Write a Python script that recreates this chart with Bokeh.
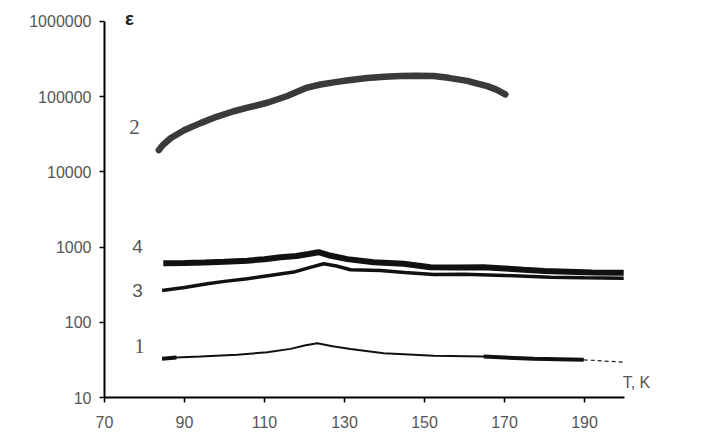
from bokeh.plotting import figure
from bokeh.models import FixedTicker, Label
from bokeh.embed import file_html
from bokeh.resources import INLINE

# Curve 2
T2 = [83.6, 84.5, 86.5, 90, 94, 98, 102.3, 106, 110.7, 115.7, 118, 120.7, 124, 127.3,
      131, 135.7, 140, 144, 148, 152.3, 156, 160.7, 163, 165.7, 168, 170.2]
e2 = [19500, 22500, 28000, 36000, 44500, 54000, 64000, 72000, 83000, 102000, 115000,
      132000, 145000, 155000, 165000, 177000, 184000, 188000, 190000, 188000, 178000,
      162000, 150000, 138000, 124000, 107000]
# Curve 4
T4 = [84.7, 90, 95, 100, 105.7, 110, 114, 118, 121, 123.5, 126, 130.7, 137.3, 144.8,
      151.5, 158, 164.8, 170, 174.8, 180, 186, 192, 199.8]
e4 = [611, 615, 625, 640, 660, 690, 732, 760, 810, 855, 780, 692, 630, 600, 540, 535,
      540, 520, 500, 480, 470, 460, 455]
# Curve 3
T3 = [84.4, 90, 95.7, 100, 105.7, 110, 117.3, 121, 124.8, 128, 131.5, 139, 145, 152.3,
      160, 170, 181.5, 190, 199.8]
e3 = [264, 290, 325, 350, 380, 410, 465, 530, 600, 560, 500, 490, 460, 431, 435, 420,
      398, 390, 385]
# Curve 1
T1 = [84.4, 88, 94, 103.2, 110.7, 116.5, 120, 123.2, 127, 131.5, 139.8, 152.3, 164.8,
      177.3, 189.8]
e1 = [32.7, 34, 35, 37, 40, 44.3, 49, 52.7, 48, 44, 38.8, 36, 35, 32.7, 31.7]
T1_tail = [189.8, 199.8]
e1_tail = [31.7, 29.5]

x_ticks = [70, 90, 110, 130, 150, 170, 190]
y_ticks = [10, 100, 1000, 10000, 100000, 1000000]
y_tick_labels = ["10", "100", "1000", "10000", "100000", "1000000"]

p = figure(width=690, height=438, x_range=(70, 215), y_range=(10, 1.63e6),
           y_axis_type="log", output_backend="svg", toolbar_location=None,
           min_border_left=104, min_border_right=6, min_border_top=5,
           min_border_bottom=41)
p.outline_line_color = None
p.grid.visible = False
p.background_fill_color = "white"
p.border_fill_color = "white"

for ax in (p.xaxis[0], p.yaxis[0]):
    ax.axis_line_color = "black"
    ax.axis_line_width = 2
    ax.major_tick_line_color = "black"
    ax.major_tick_line_width = 1.5
    ax.major_tick_out = 5
    ax.major_tick_in = 0
    ax.minor_tick_line_color = None
    ax.major_label_text_font = "Liberation Sans"
    ax.major_label_text_font_size = "16px"
    ax.major_label_text_color = "#555555"

p.xaxis[0].ticker = FixedTicker(ticks=x_ticks)
p.xaxis[0].bounds = (70, 200)
p.xaxis[0].major_label_standoff = 13
p.yaxis[0].ticker = FixedTicker(ticks=y_ticks)
p.yaxis[0].bounds = (10, 1000000)
p.yaxis[0].major_label_overrides = {t: s for t, s in zip(y_ticks, y_tick_labels)}
p.yaxis[0].major_label_standoff = 8

p.line(T2, e2, line_color="#3a3a3a", line_width=6.5, line_cap="round", line_join="round")
p.line(T4, e4, line_color="#111111", line_width=6)
p.line(T3, e3, line_color="#111111", line_width=3.5)
p.line(T1, e1, line_color="#111111", line_width=2)
p.line(T1[:2], e1[:2], line_color="#111111", line_width=4)
p.line(T1[12:], e1[12:], line_color="#111111", line_width=4)
p.line(T1_tail, e1_tail, line_color="#222222", line_width=1.2, line_dash="4 3")

def lab(x, y, t, font="Liberation Sans", size="19px", style="normal", color="#555555"):
    p.add_layout(Label(x=x, y=y, text=t, text_font=font, text_font_size=size,
                       text_font_style=style, text_color=color,
                       text_align="center", text_baseline="middle"))

lab(77.5, 39000, "2", font="Liberation Serif", size="21px")
lab(78.25, 1020, "4")
lab(78.25, 265, "3")
lab(78.75, 49, "1", font="Liberation Serif", size="20px")
lab(76.25, 1.1e6, "ε", size="19px", style="bold", color="#222222")
lab(203.0, 15.6, "T, K", size="16px")

open("out.html", "w").write(file_html(p, INLINE))
